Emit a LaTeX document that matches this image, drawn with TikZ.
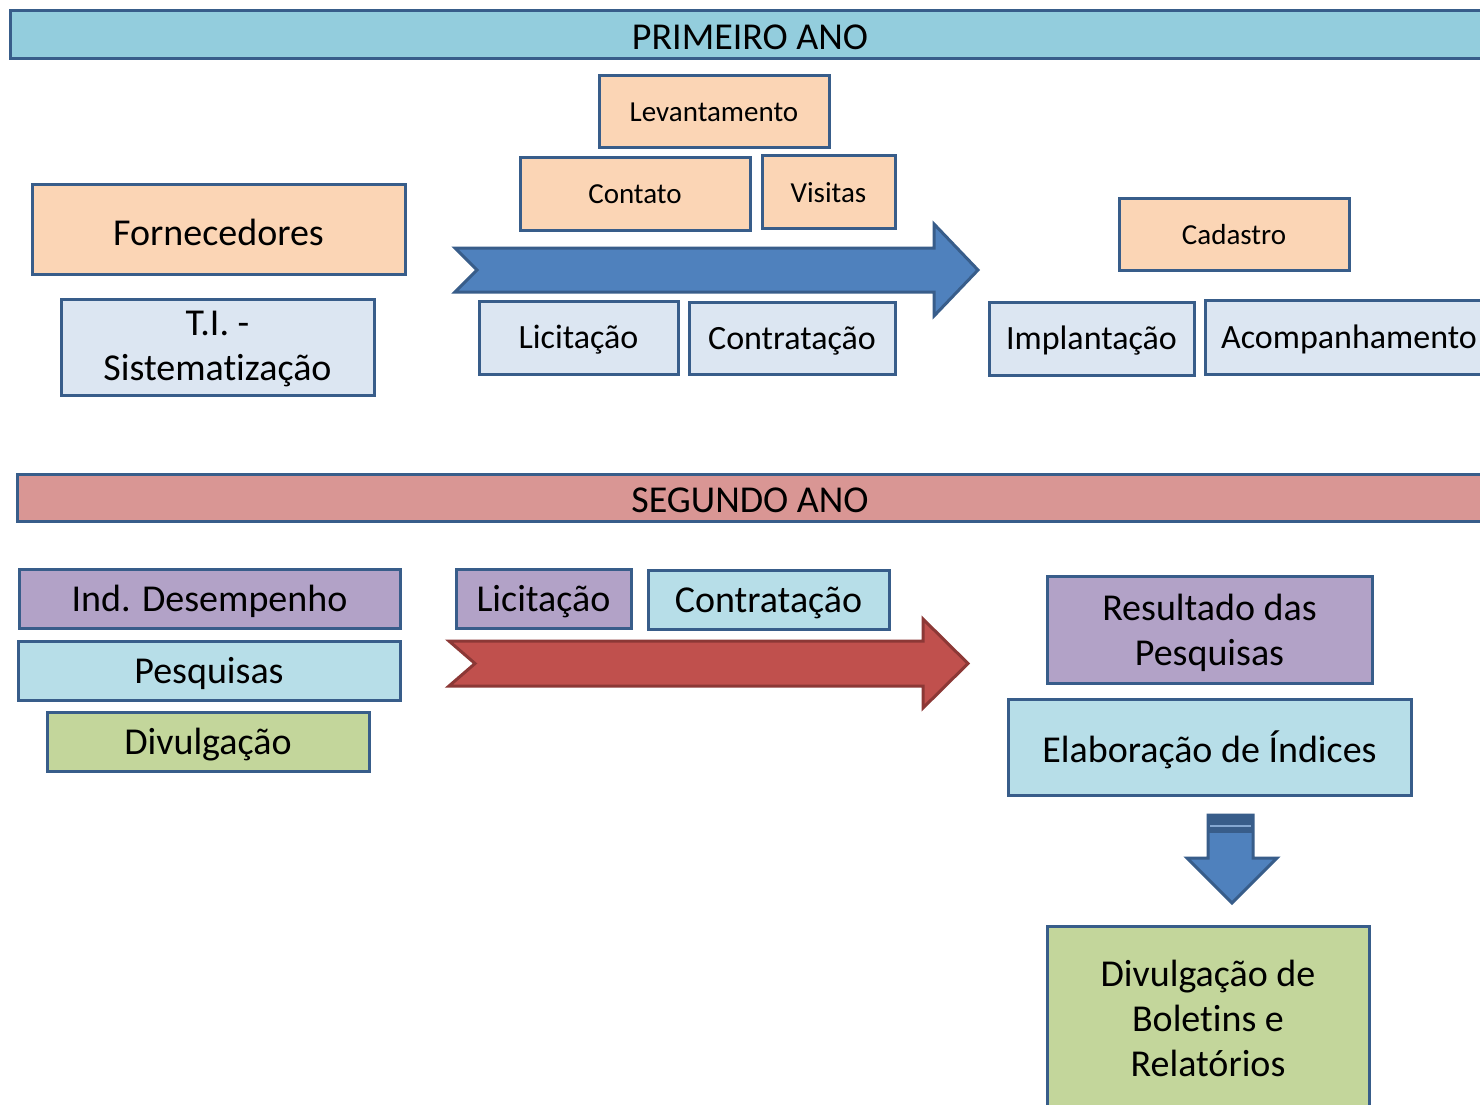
\documentclass[tikz,border=0pt]{standalone}
\usepackage{fontspec}
\setmainfont{Carlito}[Ligatures={NoCommon}]
\definecolor{bord}{HTML}{385D8A}
\definecolor{bandA}{HTML}{93CDDD}
\definecolor{peach}{HTML}{FBD5B5}
\definecolor{paleblue}{HTML}{DCE6F2}
\definecolor{bandB}{HTML}{D99694}
\definecolor{lav}{HTML}{B2A2C7}
\definecolor{ltblue}{HTML}{B7DEE8}
\definecolor{green}{HTML}{C3D69B}
\definecolor{arrblue}{HTML}{4F81BD}
\definecolor{arrred}{HTML}{C0504D}
\definecolor{redbord}{HTML}{8C3836}
\newcommand\mkbox[8]{%
  \pgfmathsetmacro\cx{(#3+#5)/2}\pgfmathsetmacro\cy{(#4+#6)/2}%
  \pgfmathsetmacro\ww{#5-#3}\pgfmathsetmacro\hh{#6-#4}%
  \node[bx,#2,minimum width=\ww pt,minimum height=\hh pt] (#1) at (\cx,\cy) {};
  \node[txt,#7] (#1-t) at (#1.center) {#8};}
\begin{document}
\begin{tikzpicture}[x=1pt,y=-1pt,
  bx/.style={draw=bord,line width=3pt,inner sep=0pt},
  txt/.style={inner sep=0pt,align=center,text=black},
  fs/.style={font=\fontsize{29}{36}\selectfont,yshift=-1pt},
  fm/.style={font=\fontsize{34}{45}\selectfont,yshift=-2.5pt},
  fl/.style={font=\fontsize{38}{45}\selectfont,yshift=-3pt},
  bigarrow/.style={line width=3pt,line join=miter}]
\clip (0,0) rectangle (1480,1104);
\fill[white] (0,0) rectangle (1480,1104);
% first year
\mkbox{ano1}{fill=bandA}{10}{10}{1490}{58}{fl}{PRIMEIRO ANO}
\mkbox{lev}{fill=peach}{599}{75}{829}{147}{fs}{Levantamento}
\mkbox{cont}{fill=peach}{520}{157}{750}{230}{fs}{Contato}
\mkbox{vis}{fill=peach}{762}{155}{895}{228}{fs}{Visitas}
\mkbox{forn}{fill=peach}{32}{184}{405}{274}{fl}{Fornecedores}
\mkbox{ti}{fill=paleblue}{61}{299}{374}{395}{fl,yshift=1pt}{T.I. -\\Sistematização}
\mkbox{lic1}{fill=paleblue}{479}{301}{678}{374}{fm}{Licitação}
\mkbox{contr1}{fill=paleblue}{689}{302}{895}{374}{fm}{Contratação}
\mkbox{cad}{fill=peach}{1119}{198}{1349}{270}{fs}{Cadastro}
\mkbox{impl}{fill=paleblue}{989}{302}{1194}{375}{fm}{Implantação}
\mkbox{acomp}{fill=paleblue}{1205}{300}{1493}{374}{fm}{Acompanhamento}
\draw[bigarrow,draw=bord,fill=arrblue] (455,248) -- (934,248) -- (934,224) -- (978,270) -- (934,316) -- (934,292) -- (455,292) -- (477,270) -- cycle;
% second year
\mkbox{ano2}{fill=bandB}{17}{474}{1483}{521}{fl}{SEGUNDO ANO}
\mkbox{ind}{fill=lav}{19}{569}{400}{628}{fl}{Ind. Desempenho}
\mkbox{pesq}{fill=ltblue}{18}{641}{400}{700}{fl}{Pesquisas}
\mkbox{divu}{fill=green}{47}{712}{369}{771}{fl}{Divulgação}
\mkbox{lic2}{fill=lav}{456}{569}{631}{628}{fl}{Licitação}
\mkbox{contr2}{fill=ltblue}{648}{570}{889}{629}{fl}{Contratação}
\draw[bigarrow,draw=redbord,fill=arrred] (449,641) -- (923,641) -- (923,619) -- (968,663.5) -- (923,708) -- (923,686) -- (449,686) -- (475,663.5) -- cycle;
\mkbox{res}{fill=lav}{1047}{576}{1372}{683}{fl}{Resultado das\\Pesquisas}
\mkbox{elab}{fill=ltblue}{1008}{699}{1411}{795}{fl}{Elaboração de Índices}
\fill[arrblue] (1208,815) -- (1253,815) -- (1253,858) -- (1277,858) -- (1232,903) -- (1187,858) -- (1208,858) -- cycle;
\fill[bord] (1208,815) rectangle (1253,833);
\draw[arrblue!70!white,line width=1.5pt] (1210,826) -- (1251,826);
\draw[bigarrow,draw=bord] (1208,815) -- (1253,815) -- (1253,858) -- (1277,858) -- (1232,903) -- (1187,858) -- (1208,858) -- cycle;
\mkbox{bol}{fill=green}{1047}{926}{1369}{1106}{fl,yshift=1pt}{Divulgação de\\Boletins e\\Relatórios}
\end{tikzpicture}
\end{document}
